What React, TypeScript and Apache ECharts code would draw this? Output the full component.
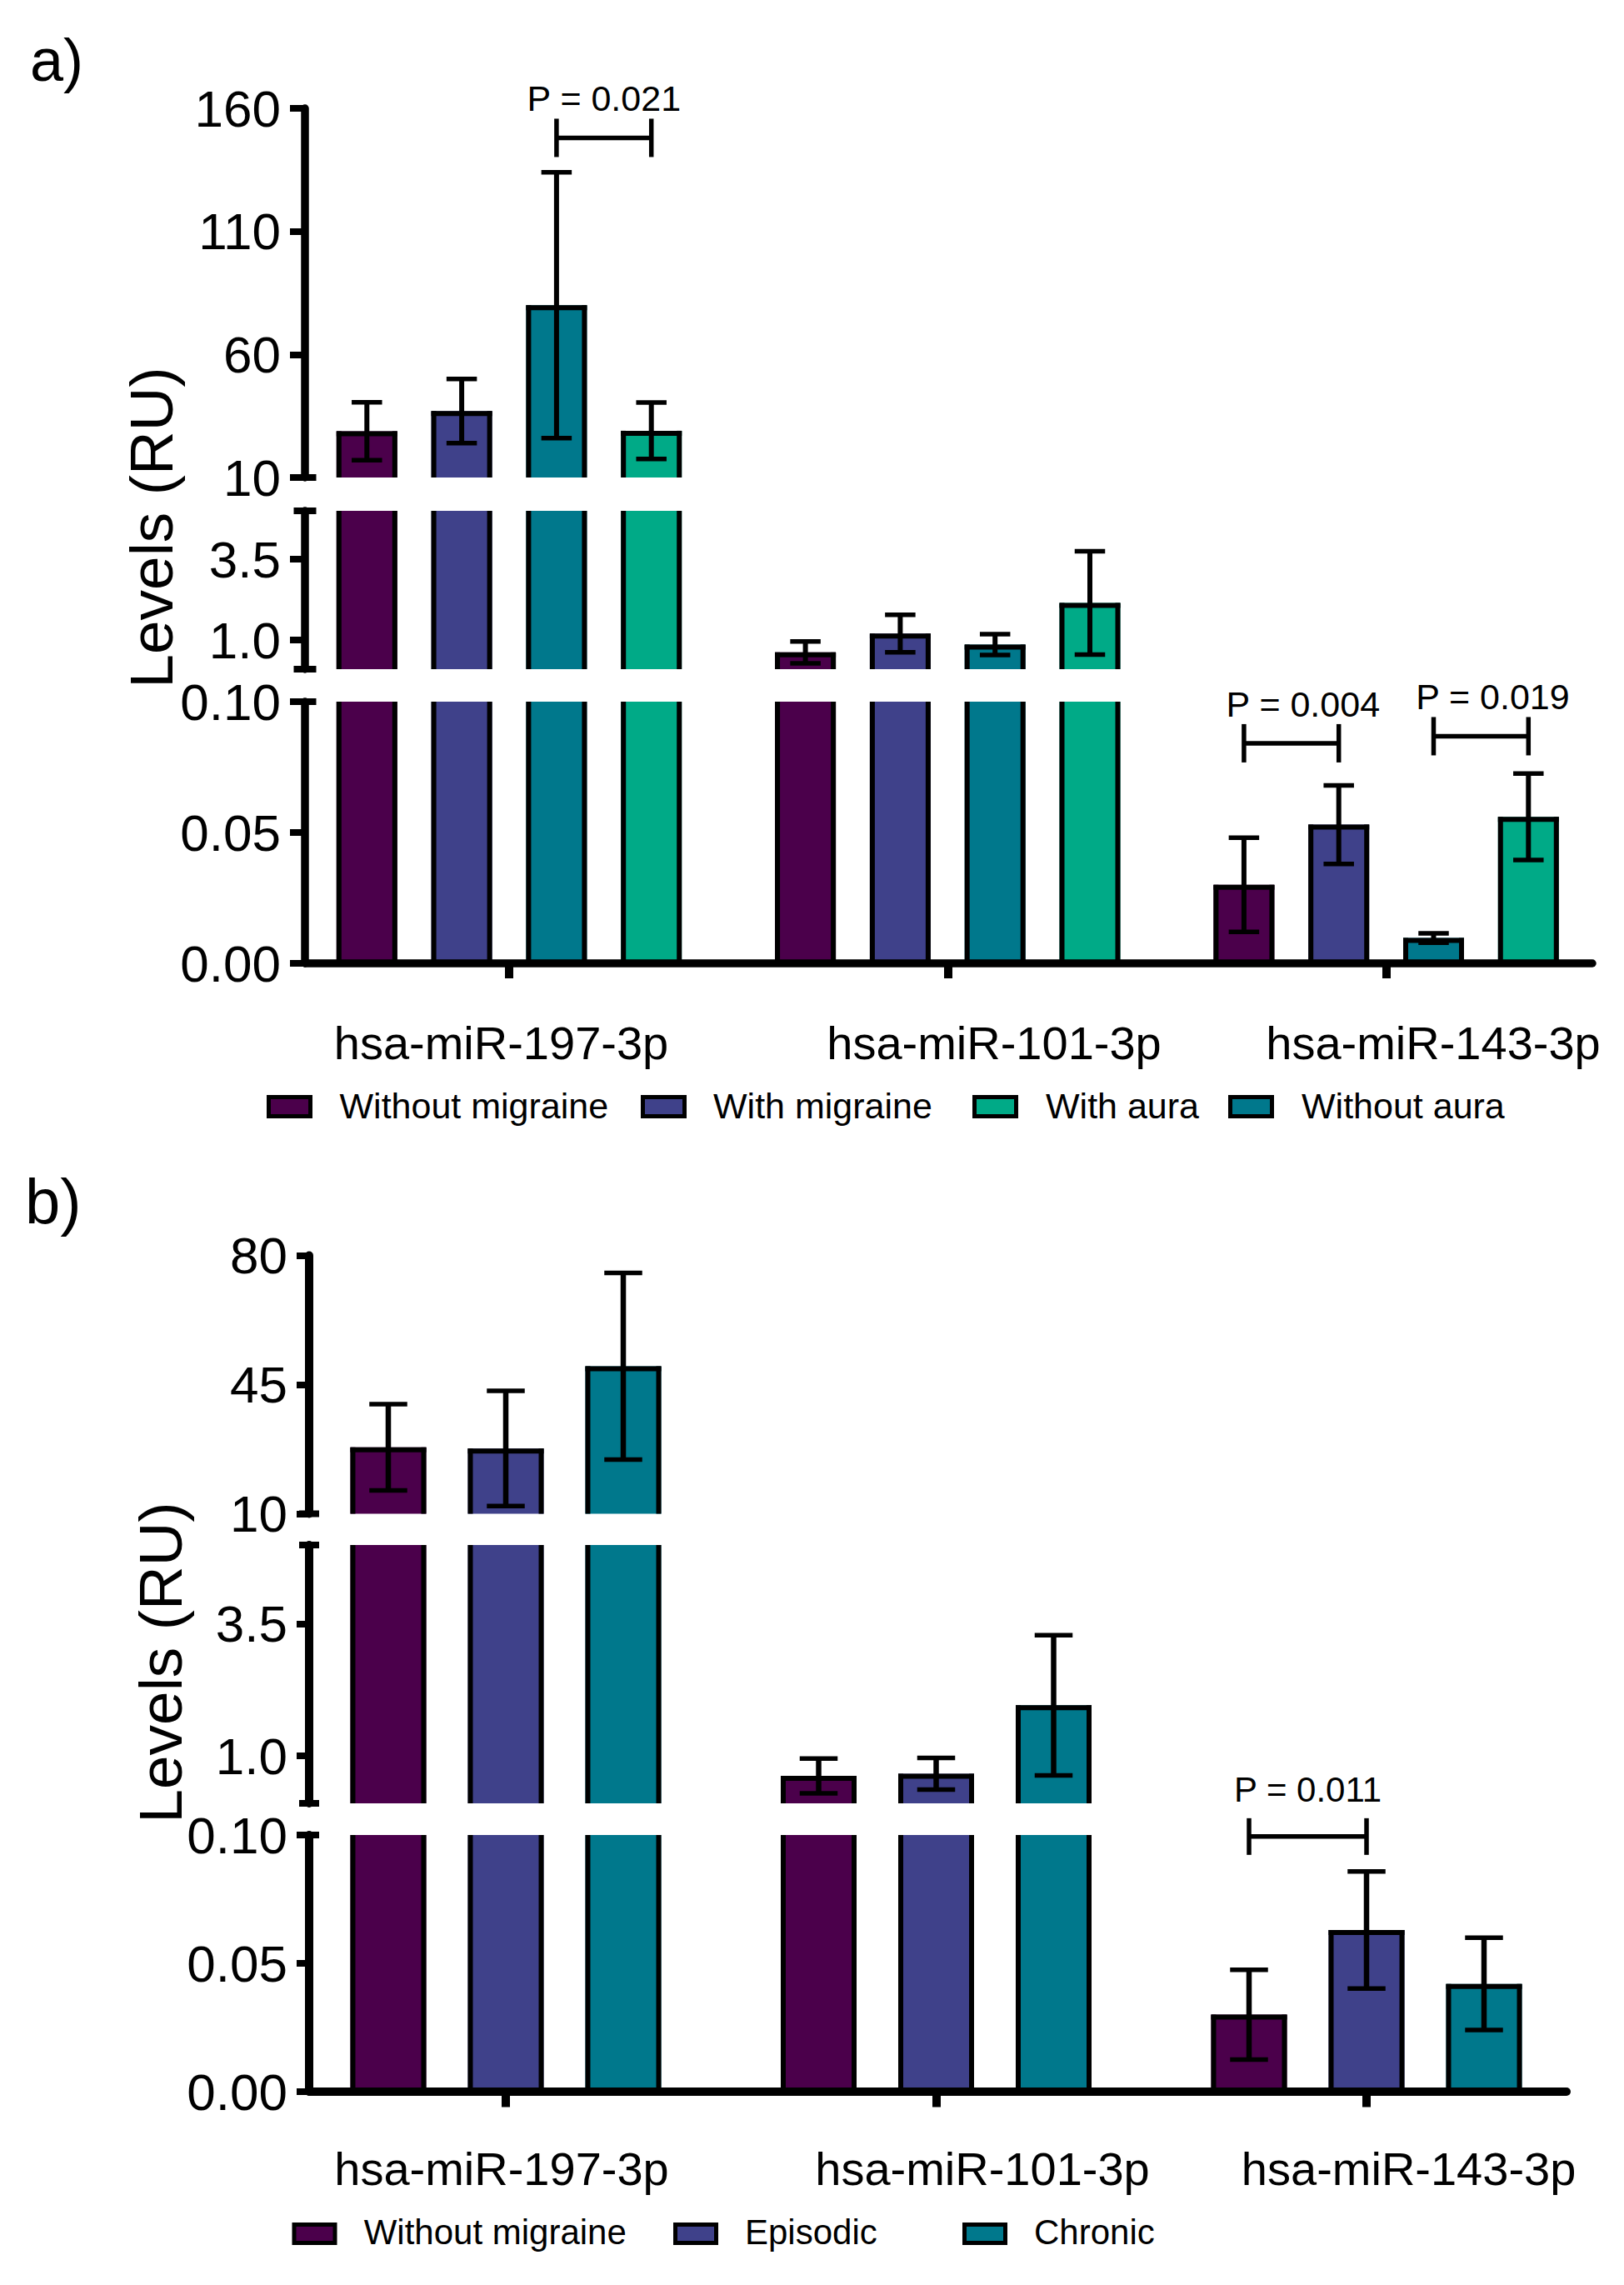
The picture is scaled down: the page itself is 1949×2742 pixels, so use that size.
import React, { useEffect, useRef } from "react";
import * as echarts from "echarts";

// ---------------- data ----------------
const categories = ["hsa-miR-197-3p", "hsa-miR-101-3p", "hsa-miR-143-3p"];

// Panel a – bar order left → right
const groupNamesA = ["Without migraine", "With migraine", "Without aura", "With aura"];
const meanWithoutMigraineA = [28.8, 0.62, 0.03];
const semWithoutMigraineA = [11.8, 0.34, 0.018];
const meanWithMigraineA = [37.0, 1.2, 0.053];
const semWithMigraineA = [13.0, 0.58, 0.015];
const meanWithoutAuraA = [80.0, 0.86, 0.0097];
const semWithoutAuraA = [54.0, 0.32, 0.0018];
const meanWithAuraA = [29.0, 2.15, 0.056];
const semWithAuraA = [11.5, 1.6, 0.0165];

// Panel b
const groupNamesB = ["Without migraine", "Episodic", "Chronic"];
const meanWithoutMigraineB = [28.0, 0.62, 0.03];
const semWithoutMigraineB = [11.7, 0.33, 0.0175];
const meanEpisodicB = [27.7, 0.66, 0.063];
const semEpisodicB = [15.6, 0.3, 0.0228];
const meanChronicB = [50.0, 1.96, 0.042];
const semChronicB = [25.3, 1.33, 0.018];

// broken y-axis segments (top → bottom) and their tick labels
const segRangesA = [[10, 160], [0.1, 5], [0, 0.1]];
const segTicksA = [[10, 60, 110, 160], [1.0, 3.5], [0, 0.05, 0.1]];
const segRangesB = [[10, 80], [0.1, 5], [0, 0.1]];
const segTicksB = [[10, 45, 80], [1.0, 3.5], [0, 0.05, 0.1]];
const segDecimals = [0, 1, 2];

// significance brackets (bar indices inside a category)
const bracketsA = [
  { seg: 0, cat: 0, from: 2, to: 3, y: 148, label: "P = 0.021" },
  { seg: 2, cat: 2, from: 0, to: 1, y: 0.0841, label: "P = 0.004" },
  { seg: 2, cat: 2, from: 2, to: 3, y: 0.0868, label: "P = 0.019" },
];
const bracketsB = [{ seg: 2, cat: 2, from: 0, to: 1, y: 0.0994, label: "P = 0.011" }];

// legend order (indices into group arrays)
const legendOrderA = [0, 1, 3, 2];
const legendOrderB = [0, 1, 2];

// ---------------- styles / layout ----------------
const FONT = '"Liberation Sans", Arial, Helvetica, sans-serif';
const PURPLE = "#4b004b";
const BLUE = "#3f418a";
const TEAL = "#00788c";
const GREEN = "#00aa87";
const colorsA = [PURPLE, BLUE, TEAL, GREEN];
const colorsB = [PURPLE, BLUE, TEAL];

const layoutA = {
  axisX: 366, axisEnd: 1911, cat0: 611, catStep: 526.3,
  segTop: [130, 613, 842], segBottom: [573, 803, 1156],
  barStep: 113.8, barWidth: 73,
  axisW: 9.5, tickW: 8, tickLen: 18, capHalf: 13.5, catTickW: 10, catTickLen: 18,
  barBorder: 6, errW: 6, capW: 5.5,
  tickFont: 62, labelMargin: 29,
  catFont: 56, catLabelMargin: 95, catLabelPos: [601.5, 1193, 1720],
  bracketLeg: 23, bracketTextGap: 47, bracketTextDx: [0, 14, 14], bracketFont: 43, bracketW: 5.5,
  legend: { boxX: [320, 769, 1167, 1474], boxY: 1314, boxW: 55, boxH: 28, textX: [407.5, 856, 1255, 1562], textY: 1327, font: 43 },
  title: { x: 181, y: 633, font: 73 },
  tag: { text: "a)", x: 36, y: 72, font: 72 },
};

const layoutB = {
  axisX: 371, axisEnd: 1880, cat0: 607, catStep: 516.5,
  segTop: [1506.6, 1854, 2202], segBottom: [1816.5, 2164, 2510],
  barStep: 141, barWidth: 91,
  axisW: 10, tickW: 8, tickLen: 15, capHalf: 12, catTickW: 10, catTickLen: 18.5,
  barBorder: 6, errW: 6.5, capW: 5.5,
  tickFont: 62, labelMargin: 26,
  catFont: 56, catLabelMargin: 92, catLabelPos: [602, 1179, 1690.6],
  bracketLeg: 22, bracketTextGap: 56, bracketTextDx: [0], bracketFont: 42, bracketW: 5.5,
  legend: { boxX: [350.5, 808, 1155], boxY: 2667, boxW: 54, boxH: 27, textX: [436.7, 894, 1241], textY: 2678, font: 42 },
  title: { x: 192, y: 1995, font: 73 },
  tag: { text: "b)", x: 30, y: 1441, font: 76 },
};

function buildPanel(
  L: any,
  ranges: number[][],
  ticks: number[][],
  means: number[][],
  sems: number[][],
  colors: string[],
  brackets: any[],
  gridOffset: number
) {
  const xMin = (L.axisX - L.cat0) / L.catStep;
  const xMax = (L.axisEnd - L.cat0) / L.catStep;
  const nG = means.length;
  const stepU = L.barStep / L.catStep;
  const widthU = L.barWidth / L.catStep;
  const labelPosU = L.catLabelPos.map((p: number) => (p - L.cat0) / L.catStep);
  const barX = (c: number, g: number) => c + (g - (nG - 1) / 2) * stepU;

  const grids: any[] = [];
  const xAxes: any[] = [];
  const yAxes: any[] = [];
  const series: any[] = [];

  ranges.forEach((rng, s) => {
    const gi = gridOffset + s;
    const isBottom = s === ranges.length - 1;
    const [lo, hi] = rng;
    grids.push({
      left: L.axisX,
      width: L.axisEnd - L.axisX,
      top: L.segTop[s],
      height: L.segBottom[s] - L.segTop[s],
      containLabel: false,
    });
    xAxes.push({
      type: "value",
      gridIndex: gi,
      min: xMin,
      max: xMax,
      show: isBottom,
      z: 5,
      axisLine: { show: true, onZero: false, lineStyle: { color: "#000", width: L.axisW } },
      axisTick: {
        show: true,
        customValues: [0, 1, 2],
        length: L.catTickLen,
        lineStyle: { color: "#000", width: L.catTickW },
      },
      axisLabel: {
        show: true,
        customValues: labelPosU,
        margin: L.catLabelMargin,
        verticalAlign: "middle",
        fontSize: L.catFont,
        fontFamily: FONT,
        color: "#000",
        formatter: (v: number) => {
          let best = 0;
          labelPosU.forEach((p: number, i: number) => {
            if (Math.abs(p - v) < Math.abs(labelPosU[best] - v)) best = i;
          });
          return categories[best];
        },
      },
      splitLine: { show: false },
    });
    yAxes.push({
      type: "value",
      gridIndex: gi,
      min: lo,
      max: hi,
      z: 5,
      axisLine: { show: true, onZero: false, lineStyle: { color: "#000", width: L.axisW } },
      axisTick: {
        show: true,
        customValues: ticks[s],
        length: L.tickLen,
        lineStyle: { color: "#000", width: L.tickW },
      },
      axisLabel: {
        show: true,
        customValues: ticks[s],
        margin: L.labelMargin,
        fontSize: L.tickFont,
        fontFamily: FONT,
        color: "#000",
        formatter: (v: number) => Number(v).toFixed(segDecimals[s]),
      },
      splitLine: { show: false },
    });

    // bars + error bars
    const items: number[][] = [];
    means.forEach((arr, g) => arr.forEach((m, c) => items.push([c, g, m, sems[g][c]])));
    series.push({
      type: "custom",
      coordinateSystem: "cartesian2d",
      xAxisIndex: gi,
      yAxisIndex: gi,
      silent: true,
      z: 2,
      encode: { x: 0, y: 2 },
      data: items,
      renderItem: (params: any, api: any) => {
        const c = api.value(0);
        const g = api.value(1);
        const m = api.value(2);
        const e = api.value(3);
        if (!(m > lo)) return { type: "group", children: [] };
        const cx = barX(c, g);
        const base = api.coord([cx, lo]);
        const closedTop = m <= hi;
        const yTop = api.coord([cx, Math.min(m, hi)])[1];
        const half = api.size([widthU, 0])[0] / 2;
        const xc = base[0];
        const yB = base[1];
        const b = L.barBorder;
        const st = { stroke: "#000", lineWidth: b };
        const ch: any[] = [
          { type: "rect", shape: { x: xc - half, y: yTop, width: 2 * half, height: yB - yTop }, style: { fill: colors[g] } },
          { type: "line", shape: { x1: xc - half + b / 2, y1: yTop, x2: xc - half + b / 2, y2: yB }, style: st },
          { type: "line", shape: { x1: xc + half - b / 2, y1: yTop, x2: xc + half - b / 2, y2: yB }, style: st },
        ];
        if (closedTop) {
          ch.push({ type: "line", shape: { x1: xc - half, y1: yTop + b / 2, x2: xc + half, y2: yTop + b / 2 }, style: st });
          const yHi = api.coord([cx, m + e])[1];
          const yLo = api.coord([cx, m - e])[1];
          const ch2 = half / 2;
          ch.push({ type: "line", shape: { x1: xc, y1: yLo, x2: xc, y2: yHi }, style: { stroke: "#000", lineWidth: L.errW } });
          ch.push({ type: "line", shape: { x1: xc - ch2, y1: yHi, x2: xc + ch2, y2: yHi }, style: { stroke: "#000", lineWidth: L.capW } });
          ch.push({ type: "line", shape: { x1: xc - ch2, y1: yLo, x2: xc + ch2, y2: yLo }, style: { stroke: "#000", lineWidth: L.capW } });
        }
        return { type: "group", children: ch };
      },
    });

    // axis-break caps
    const caps: number[][] = [];
    if (s > 0) caps.push([xMin, hi]);
    if (!isBottom) caps.push([xMin, lo]);
    if (caps.length) {
      series.push({
        type: "custom",
        coordinateSystem: "cartesian2d",
        xAxisIndex: gi,
        yAxisIndex: gi,
        silent: true,
        z: 6,
        encode: { x: 0, y: 1 },
        data: caps,
        renderItem: (params: any, api: any) => {
          const p = api.coord([api.value(0), api.value(1)]);
          return {
            type: "line",
            shape: { x1: p[0] - L.capHalf, y1: p[1], x2: p[0] + L.capHalf, y2: p[1] },
            style: { stroke: "#000", lineWidth: L.tickW },
          };
        },
      });
    }

    // significance brackets
    const br = brackets.map((bk, i) => ({ bk, i })).filter((o) => o.bk.seg === s);
    if (br.length) {
      series.push({
        type: "custom",
        coordinateSystem: "cartesian2d",
        xAxisIndex: gi,
        yAxisIndex: gi,
        silent: true,
        clip: false,
        z: 6,
        encode: { x: 0, y: 2 },
        data: br.map((o) => [barX(o.bk.cat, o.bk.from), barX(o.bk.cat, o.bk.to), o.bk.y, o.i]),
        renderItem: (params: any, api: any) => {
          const idx = api.value(3);
          const pL = api.coord([api.value(0), api.value(2)]);
          const pR = api.coord([api.value(1), api.value(2)]);
          const st = { stroke: "#000", lineWidth: L.bracketW };
          const y = pL[1];
          return {
            type: "group",
            children: [
              { type: "line", shape: { x1: pL[0], y1: y, x2: pR[0], y2: y }, style: st },
              { type: "line", shape: { x1: pL[0], y1: y - L.bracketLeg, x2: pL[0], y2: y + L.bracketLeg }, style: st },
              { type: "line", shape: { x1: pR[0], y1: y - L.bracketLeg, x2: pR[0], y2: y + L.bracketLeg }, style: st },
              {
                type: "text",
                x: (pL[0] + pR[0]) / 2 + (L.bracketTextDx[idx] || 0),
                y: y - L.bracketTextGap,
                style: {
                  text: brackets[idx].label,
                  fontSize: L.bracketFont,
                  fontFamily: FONT,
                  fill: "#000",
                  align: "center",
                  verticalAlign: "middle",
                  textAlign: "center",
                  textVerticalAlign: "middle",
                },
              },
            ],
          };
        },
      });
    }
  });

  return { grids, xAxes, yAxes, series };
}

function panelGraphics(L: any, names: string[], colors: string[], order: number[]) {
  const els: any[] = [];
  const txt = (text: string, x: number, y: number, size: number, align: string, rotation = 0) => ({
    type: "text",
    x,
    y,
    rotation,
    silent: true,
    style: {
      text,
      fontSize: size,
      fontFamily: FONT,
      fill: "#000",
      align,
      verticalAlign: "middle",
      textAlign: align,
      textVerticalAlign: "middle",
    },
  });
  els.push(txt(L.tag.text, L.tag.x, L.tag.y, L.tag.font, "left"));
  els.push(txt("Levels (RU)", L.title.x, L.title.y, L.title.font, "center", Math.PI / 2));
  order.forEach((g, i) => {
    els.push({
      type: "rect",
      silent: true,
      shape: { x: L.legend.boxX[i] + 2.5, y: L.legend.boxY + 2.5, width: L.legend.boxW - 5, height: L.legend.boxH - 5 },
      style: { fill: colors[g], stroke: "#000", lineWidth: 5 },
    });
    els.push(txt(names[g], L.legend.textX[i], L.legend.textY, L.legend.font, "left"));
  });
  return els;
}

export default function App() {
  const ref = useRef<HTMLDivElement>(null);
  useEffect(() => {
    document.body.style.margin = "0";
    if (!ref.current) return;
    const chart = echarts.init(ref.current, undefined, { renderer: "svg" });
    const a = buildPanel(
      layoutA,
      segRangesA,
      segTicksA,
      [meanWithoutMigraineA, meanWithMigraineA, meanWithoutAuraA, meanWithAuraA],
      [semWithoutMigraineA, semWithMigraineA, semWithoutAuraA, semWithAuraA],
      colorsA,
      bracketsA,
      0
    );
    const b = buildPanel(
      layoutB,
      segRangesB,
      segTicksB,
      [meanWithoutMigraineB, meanEpisodicB, meanChronicB],
      [semWithoutMigraineB, semEpisodicB, semChronicB],
      colorsB,
      bracketsB,
      3
    );
    chart.setOption({
      animation: false,
      backgroundColor: "#ffffff",
      grid: [...a.grids, ...b.grids],
      xAxis: [...a.xAxes, ...b.xAxes],
      yAxis: [...a.yAxes, ...b.yAxes],
      series: [...a.series, ...b.series],
      graphic: [
        ...panelGraphics(layoutA, groupNamesA, colorsA, legendOrderA),
        ...panelGraphics(layoutB, groupNamesB, colorsB, legendOrderB),
      ],
    });
    return () => chart.dispose();
  }, []);
  return <div ref={ref} style={{ width: 1949, height: 2742, display: "block" }} />;
}
